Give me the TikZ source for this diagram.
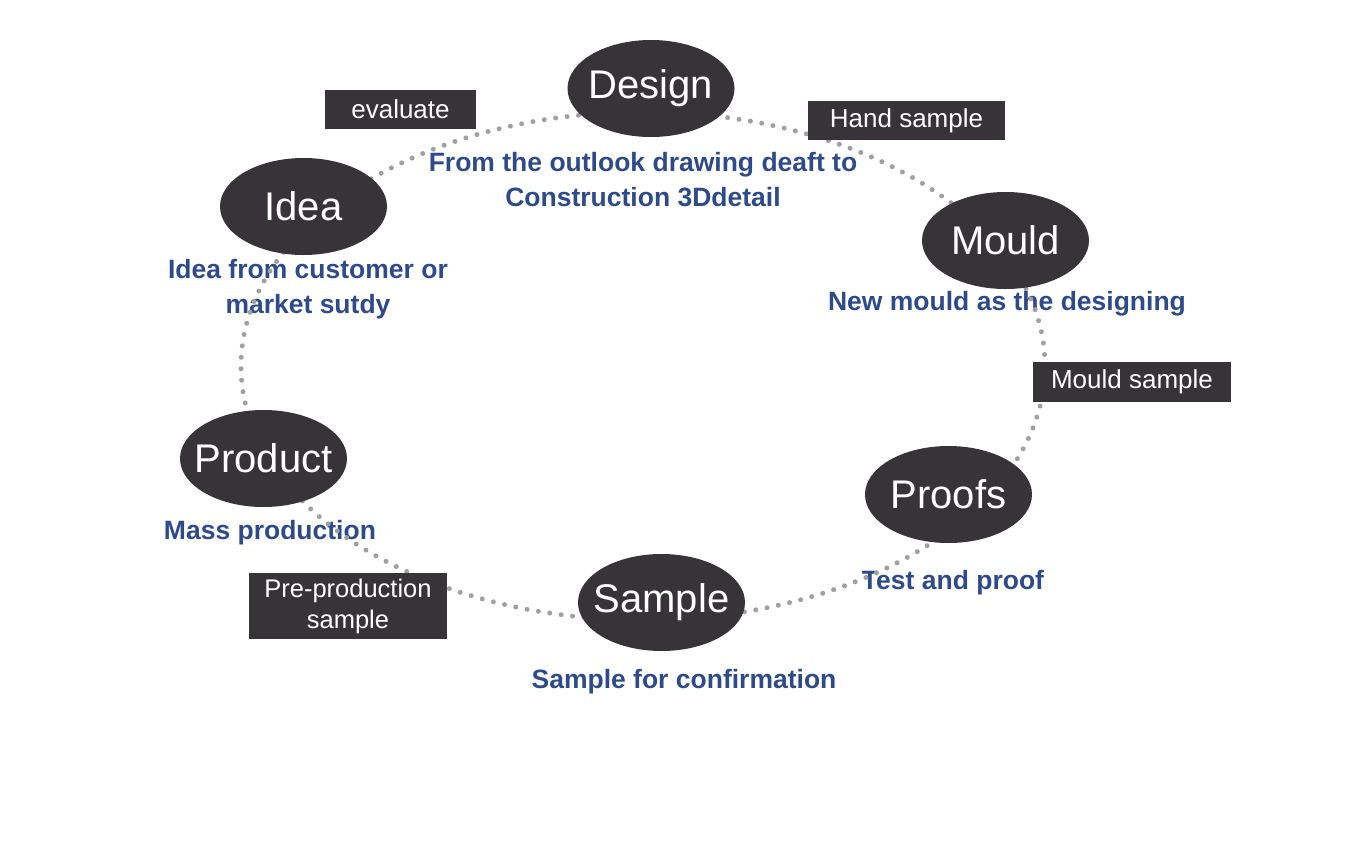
\documentclass[tikz,border=0pt]{standalone}
\usepackage{fontspec}
\setmainfont{Liberation Sans}
\usepackage{tikz}
\usetikzlibrary{positioning, calc, shapes.geometric}
\definecolor{stepgrey}{RGB}{55,52,55}
\definecolor{notebl}{RGB}{46,74,136}
\definecolor{dotgrey}{RGB}{160,160,160}

\begin{document}
\begin{tikzpicture}[x=1pt, y=-1pt,
		stage/.style={ellipse, fill=stepgrey, text=white, inner xsep=-30pt, inner ysep=0pt, minimum width=167pt, minimum height=97pt, font=\fontsize{40}{48}\selectfont},
		tag/.style={rectangle, fill=stepgrey, text=white, inner sep=0pt, align=center, font=\fontsize{26}{29}\selectfont},
		note/.style={text=notebl, inner sep=0pt, align=center, font=\bfseries\fontsize{26.5}{35}\selectfont},
		ring/.style={dotgrey, line width=5pt, line cap=round, dash pattern=on 0pt off 11.5pt}]
		\useasboundingbox (0,0) rectangle (1361,849);
		% notes under each stage
		\node[note] (n-design) at (643,180) {From the outlook drawing deaft to\\Construction 3Ddetail};
		\node[note] (n-idea) at (308,289) {Idea from customer or\\market sutdy};
		\node[note, anchor=base] (n-mould) at (1007,310) {New mould as the designing};
		\node[note, anchor=base] (n-product) at (270,539) {Mass production};
		\node[note, anchor=base] (n-proofs) at (953,589) {Test and proof};
		\node[note, anchor=base] (n-sample) at (684,688) {Sample for confirmation};
		% dotted cycle
		\coordinate (c) at (643,366);
		\draw[ring] (c) ellipse [x radius=402pt, y radius=254pt];
		% stages
		\node[stage] (design) at (651,88.5) {Design};
		\node[stage] (idea) at (303.5,206.5) {Idea};
		\node[stage] (mould) at (1005.5,240.5) {Mould};
		\node[stage] (proofs) at (948.5,494.5) {Proofs};
		\node[stage] (sample) at (661.5,602.5) {Sample};
		\node[stage] (product) at (263.5,458.5) {Product};
		% tags on the cycle
		\node[tag, minimum width=151pt, minimum height=39pt] (evaluate) at (400.5,109.5) {evaluate};
		\node[tag, minimum width=197pt, minimum height=39pt] (hand) at (906.5,120.5) {Hand sample};
		\node[tag, minimum width=198pt, minimum height=40pt] (msample) at (1132,382) {Mould sample};
		\node[tag, minimum width=198pt, minimum height=66pt, font=\fontsize{25.5}{31}\selectfont] (pre) at (348,606) {Pre-production\\sample};
	\end{tikzpicture}
\end{document}
